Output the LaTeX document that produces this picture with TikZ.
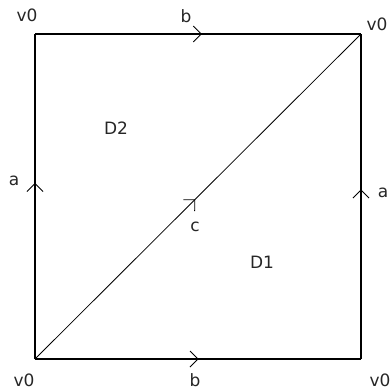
\documentclass[tikz,border=0pt]{standalone}
\usepackage{fontspec}
\setmainfont{DejaVu Sans}
\usetikzlibrary{decorations.markings}

\tikzset{
  side/.style={line width=1.2pt},
  chev/.style={postaction={decorate},
    decoration={markings, mark=at position #1 with {\draw[line width=0.9pt] (-8pt,-8pt) -- (0pt,0pt) -- (-8pt,8pt);}}},
  lbl/.style={font=\fontsize{17}{20}\selectfont, text=black!85, inner sep=0pt}
}

\begin{document}
\begin{tikzpicture}[x=1pt,y=-1pt]
  \useasboundingbox (0,0) rectangle (390,392);
  \coordinate (tl) at (35,34);
  \coordinate (tr) at (361,34);
  \coordinate (bl) at (35,359);
  \coordinate (br) at (361,359);
  \draw[side,chev=0.51] (tl) -- (tr);
  \draw[side,chev=0.5] (bl) -- (br);
  \draw[side,chev=0.54] (bl) -- (tl);
  \draw[side,chev=0.52] (br) -- (tr);
  \draw[line width=0.8pt,chev=0.49] (bl) -- (tr);
  \node[lbl] (vtl) at (27,15) {v0};
  \node[lbl] (vtr) at (377,24) {v0};
  \node[lbl] (vbl) at (24,380) {v0};
  \node[lbl] (vbr) at (380,380) {v0};
  \node[lbl] (btop) at (186,16) {b};
  \node[lbl] (bbot) at (195,380) {b};
  \node[lbl] (aleft) at (14,181) {a};
  \node[lbl] (aright) at (383,193) {a};
  \node[lbl] (cdiag) at (195,227) {c};
  \node[lbl] (dtwo) at (116,128) {D2};
  \node[lbl] (done) at (262,262) {D1};
\end{tikzpicture}
\end{document}
